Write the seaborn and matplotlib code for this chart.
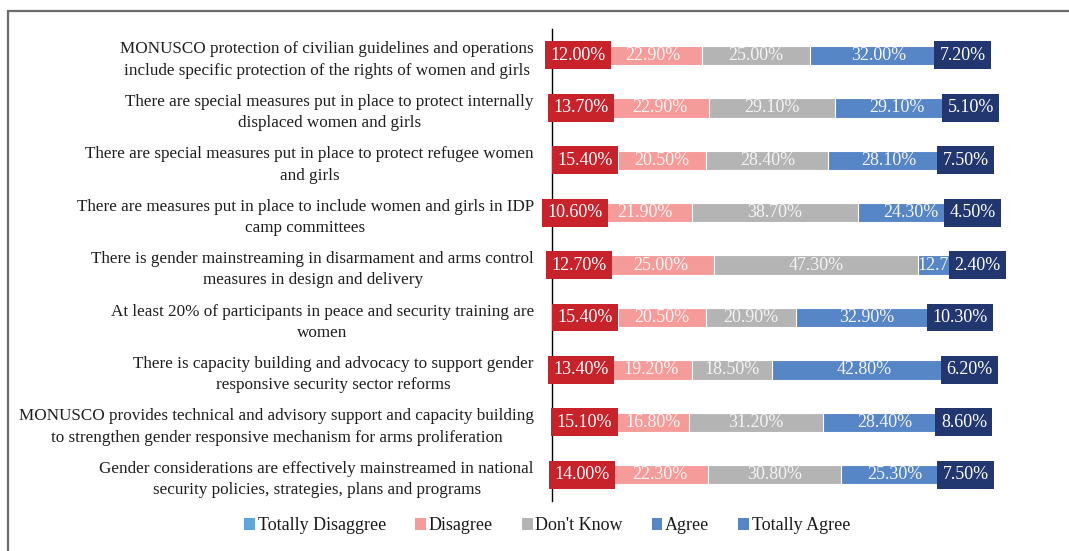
import numpy as np
import pandas as pd
import matplotlib
matplotlib.use("Agg")
import matplotlib.pyplot as plt
from matplotlib.patches import Patch, Rectangle
import seaborn as sns

# Survey statements (one bar each, top to bottom)
statements = [
    "MONUSCO protection of civilian guidelines and operations\ninclude specific protection of the rights of women and girls",
    "There are special measures put in place to protect internally\ndisplaced women and girls",
    "There are special measures put in place to protect refugee women\nand girls",
    "There are measures put in place to include women and girls in IDP\ncamp committees",
    "There is gender mainstreaming in disarmament and arms control\nmeasures in design and delivery",
    "At least 20% of participants in peace and security training are\nwomen",
    "There is capacity building and advocacy to support gender\nresponsive security sector reforms",
    "MONUSCO provides technical and advisory support and capacity building\nto strengthen gender responsive mechanism for arms proliferation",
    "Gender considerations are effectively mainstreamed in national\nsecurity policies, strategies, plans and programs",
]

responses = ["Totally Disaggree", "Disagree", "Don't Know", "Agree", "Totally Agree"]

totally_disagree = [12.00, 13.70, 15.40, 10.60, 12.70, 15.40, 13.40, 15.10, 14.00]
disagree         = [22.90, 22.90, 20.50, 21.90, 25.00, 20.50, 19.20, 16.80, 22.30]
dont_know        = [25.00, 29.10, 28.40, 38.70, 47.30, 20.90, 18.50, 31.20, 30.80]
agree            = [32.00, 29.10, 28.10, 24.30, 12.70, 32.90, 42.80, 28.40, 25.30]
totally_agree    = [7.20, 5.10, 7.50, 4.50, 2.40, 10.30, 6.20, 8.60, 7.50]

series = [totally_disagree, disagree, dont_know, agree, totally_agree]

bar_colors = ["#5FA6DC", "#F59B9A", "#B4B4B4", "#5686C6", "#5686C6"]
red_box = "#C8232B"
navy_box = "#22366F"

sns.set_theme(style="white")
plt.rcParams["font.family"] = ["Liberation Serif", "DejaVu Serif"]

fig = plt.figure(figsize=(10.69, 5.51), dpi=100)
ax = fig.add_axes([552 / 1069, 1 - 501 / 551, 430 / 1069, (501 - 29.2) / 551])

df = pd.DataFrame({"statement": statements})
values = np.array(series)            # shape: (response, statement)
cum = np.cumsum(values, axis=0)

# Stacked bars: draw cumulative totals from widest to narrowest
for i in range(len(responses) - 1, -1, -1):
    df["total"] = cum[i]
    sns.barplot(data=df, x="total", y="statement", orient="h", order=statements,
                color=bar_colors[i], saturation=1, width=0.37,
                edgecolor="white", linewidth=0.8, ax=ax)

ax.set_xlim(0, 100)
ax.set_xlabel("")
ax.set_ylabel("")
ax.set_xticks([])
for side in ["top", "right", "bottom"]:
    ax.spines[side].set_visible(False)
ax.spines["left"].set_color("black")
ax.spines["left"].set_linewidth(1.0)
ax.tick_params(axis="y", length=0, pad=13, labelsize=12.3, labelcolor="#1e1e1e")
for lbl in ax.get_yticklabels():
    lbl.set_multialignment("center")
    lbl.set_linespacing(1.45)

# Value labels centred on each segment
for i in range(len(responses)):
    for j in range(len(statements)):
        v = values[i, j]
        center = cum[i, j] - v / 2
        kw = dict(ha="center", va="center", fontsize=13, color="white", clip_on=False)
        if i == 0:
            kw["bbox"] = dict(boxstyle="square,pad=0.3", fc=red_box, ec="none")
            kw["zorder"] = 6
        elif i == len(responses) - 1:
            kw["bbox"] = dict(boxstyle="square,pad=0.3", fc=navy_box, ec="none")
            kw["zorder"] = 7
        else:
            kw["color"] = "#F4F4F4"
            kw["zorder"] = 5
        ax.text(center, j, f"{v:.2f}%", **kw)

# Legend
handles = [Patch(facecolor=c, edgecolor="none") for c in bar_colors]
fig.legend(handles, responses, loc="center", bbox_to_anchor=(0.512, 1 - 526 / 551),
           ncol=5, frameon=False, fontsize=13, handlelength=0.6, handleheight=0.6,
           handletextpad=0.15, columnspacing=1.6, labelcolor="#1a1a1a")

# Outer frame
fig.patches.append(Rectangle((8 / 1069, -0.2), 1.2, 1 - 10.5 / 551 + 0.2,
                             transform=fig.transFigure, fill=False,
                             edgecolor="#6b6b6b", linewidth=1.6))

fig.savefig("out.png", dpi=100, facecolor="white")
